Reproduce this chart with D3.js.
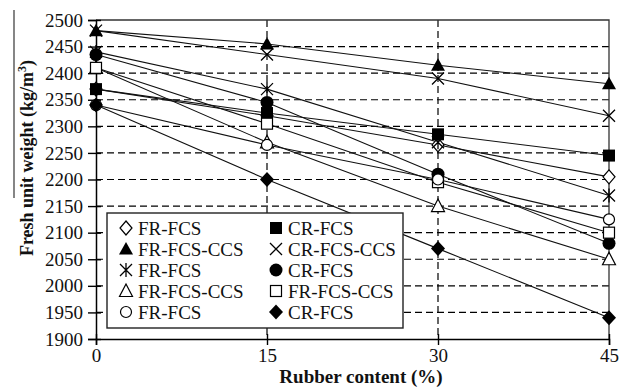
<!DOCTYPE html>
<html>
<head>
<meta charset="utf-8">
<script src="https://cdn.jsdelivr.net/npm/d3@7"></script>
<style>
  html, body { margin: 0; padding: 0; background: #fff; }
  svg { display: block; }
  text { font-family: "Liberation Serif", "Times New Roman", serif; fill: #111; }
</style>
</head>
<body>
<svg id="chart" width="632" height="387"></svg>
<script>
// Rubber content (%) on the x axis
const rubberContent = [0, 15, 30, 45];
const yTicks = [1900, 1950, 2000, 2050, 2100, 2150, 2200, 2250, 2300, 2350, 2400, 2450, 2500];

// Series labels in legend order (left column, right column, row by row)
const seriesNames = [
  "FR-FCS", "CR-FCS",
  "FR-FCS-CCS", "CR-FCS-CCS",
  "FR-FCS", "CR-FCS",
  "FR-FCS-CCS", "FR-FCS-CCS",
  "FR-FCS", "CR-FCS"
];

// Fresh unit weight (kg/m3) for each mix
const diamondOpenVals  = [2370, 2320, 2265, 2205];
const squareFillVals   = [2370, 2325, 2285, 2245];
const triFillVals      = [2480, 2455, 2415, 2380];
const timesVals        = [2480, 2435, 2390, 2320];
const asteriskVals     = [2440, 2370, 2270, 2170];
const circleFillVals   = [2435, 2345, 2210, 2080];
const triOpenVals      = [2410, 2270, 2150, 2050];
const squareOpenVals   = [2410, 2305, 2195, 2100];
const circleOpenVals   = [2340, 2265, 2200, 2125];
const diamondFillVals  = [2340, 2200, 2070, 1940];

const seriesValues = [
  diamondOpenVals, squareFillVals, triFillVals, timesVals, asteriskVals,
  circleFillVals, triOpenVals, squareOpenVals, circleOpenVals, diamondFillVals
];
const markerKinds = [
  "diamondOpen", "squareFill", "triFill", "times", "asterisk",
  "circleFill", "triOpen", "squareOpen", "circleOpen", "diamondFill"
];

const svg = d3.select("#chart");
const plotLeft = 96, plotRight = 609, plotTop = 20, plotBottom = 339;

const x = d3.scaleLinear().domain([0, 45]).range([plotLeft, plotRight]);
const y = d3.scaleLinear().domain([1900, 2500]).range([plotBottom, plotTop]);

// Marker drawing
function drawMarker(g, kind, cx, cy) {
  const s = g.append("g").attr("transform", `translate(${cx},${cy})`);
  const sw = 1.2;
  switch (kind) {
    case "diamondOpen":
      s.append("path").attr("d", "M0,-7L6,0L0,7L-6,0Z").attr("fill", "#fff").attr("stroke", "#000").attr("stroke-width", sw);
      break;
    case "diamondFill":
      s.append("path").attr("d", "M0,-7.5L7,0L0,7.5L-7,0Z").attr("fill", "#000");
      break;
    case "squareFill":
      s.append("rect").attr("x", -6).attr("y", -6).attr("width", 12).attr("height", 12).attr("fill", "#000");
      break;
    case "squareOpen":
      s.append("rect").attr("x", -5.5).attr("y", -5.5).attr("width", 11).attr("height", 11).attr("fill", "#fff").attr("stroke", "#000").attr("stroke-width", sw);
      break;
    case "triFill":
      s.append("path").attr("d", "M0,-7L7,5.5L-7,5.5Z").attr("fill", "#000");
      break;
    case "triOpen":
      s.append("path").attr("d", "M0,-7L6.5,5.5L-6.5,5.5Z").attr("fill", "#fff").attr("stroke", "#000").attr("stroke-width", sw);
      break;
    case "circleFill":
      s.append("circle").attr("r", 6.5).attr("fill", "#000");
      break;
    case "circleOpen":
      s.append("circle").attr("r", 5.5).attr("fill", "#fff").attr("stroke", "#000").attr("stroke-width", sw);
      break;
    case "times":
      s.append("path").attr("d", "M-6,-6L6,6M-6,6L6,-6").attr("stroke", "#000").attr("stroke-width", 1.3).attr("fill", "none");
      break;
    case "asterisk":
      s.append("path").attr("d", "M-6,-6L6,6M-6,6L6,-6M0,-7L0,7").attr("stroke", "#000").attr("stroke-width", 1.3).attr("fill", "none");
      break;
  }
}

// Stray frame line at the far left
svg.append("line").attr("x1", 14).attr("x2", 14).attr("y1", 10).attr("y2", 198)
  .attr("stroke", "#444").attr("stroke-width", 1.3);

// Horizontal dashed gridlines
svg.append("g").selectAll("line").data(yTicks.filter(v => v > 1900 && v < 2500)).join("line")
  .attr("x1", plotLeft).attr("x2", plotRight)
  .attr("y1", d => y(d)).attr("y2", d => y(d))
  .attr("stroke", "#000").attr("stroke-width", 1.2).attr("stroke-dasharray", "7,4");

// Vertical dashed gridlines
svg.append("g").selectAll("line").data([15, 30]).join("line")
  .attr("x1", d => x(d)).attr("x2", d => x(d))
  .attr("y1", plotTop).attr("y2", plotBottom)
  .attr("stroke", "#000").attr("stroke-width", 1.2).attr("stroke-dasharray", "7,4");

// Frame: top and right edges
svg.append("path")
  .attr("d", `M${plotLeft},${plotTop}L${plotRight},${plotTop}L${plotRight},${plotBottom}`)
  .attr("fill", "none").attr("stroke", "#333").attr("stroke-width", 1.3);

// Axes
const yAxis = d3.axisLeft(y).tickValues(yTicks).tickSize(8).tickPadding(6).tickFormat(d3.format("d"));
const gy = svg.append("g").attr("transform", `translate(${plotLeft},0)`).call(yAxis);
gy.select(".domain").attr("stroke", "#000").attr("stroke-width", 1.5);
gy.selectAll(".tick line").attr("stroke", "#000").attr("stroke-width", 1.4).attr("x2", -8).attr("x1", 5);
gy.selectAll(".tick text").attr("font-size", 19).attr("fill", "#111")
  .attr("font-family", "Liberation Serif, serif").attr("x", -13);

const xAxis = d3.axisBottom(x).tickValues(rubberContent).tickSize(6).tickPadding(6).tickFormat(d3.format("d"));
const gx = svg.append("g").attr("transform", `translate(0,${plotBottom})`).call(xAxis);
gx.select(".domain").attr("stroke", "#000").attr("stroke-width", 1.5);
gx.selectAll(".tick line").attr("stroke", "#000").attr("stroke-width", 1.4).attr("y1", -5).attr("y2", 6);
gx.selectAll(".tick text").attr("font-size", 19).attr("fill", "#111")
  .attr("font-family", "Liberation Serif, serif").attr("y", 10);

// Series lines
const line = d3.line().x((d, i) => x(rubberContent[i])).y(d => y(d));
svg.append("g").selectAll("path").data(seriesValues).join("path")
  .attr("d", d => line(d))
  .attr("fill", "none").attr("stroke", "#111").attr("stroke-width", 1.1);

// Markers
const mk = svg.append("g");
seriesValues.forEach((vals, si) => {
  vals.forEach((v, i) => drawMarker(mk, markerKinds[si], x(rubberContent[i]), y(v)));
});

// Axis titles
svg.append("text")
  .attr("x", 361).attr("y", 383)
  .attr("text-anchor", "middle").attr("font-size", 19).attr("font-weight", "bold")
  .text("Rubber content (%)");

const yt = svg.append("text")
  .attr("transform", "translate(33,158) rotate(-90)")
  .attr("text-anchor", "middle").attr("font-size", 18).attr("font-weight", "bold");
yt.append("tspan").text("Fresh unit weight (kg/m");
yt.append("tspan").attr("font-size", 12).attr("dy", -7).text("3");
yt.append("tspan").attr("dy", 7).text(")");

// Legend
const lg = svg.append("g");
lg.append("rect").attr("x", 107).attr("y", 213).attr("width", 296).attr("height", 115)
  .attr("fill", "#fff").attr("stroke", "#222").attr("stroke-width", 1.4);
seriesNames.forEach((name, i) => {
  const col = i % 2, row = Math.floor(i / 2);
  const mx = col === 0 ? 126 : 276;
  const my = 228 + row * 21;
  drawMarker(lg, markerKinds[i], mx, my);
  lg.append("text").attr("x", mx + 12).attr("y", my).attr("dy", "0.35em")
    .attr("font-size", 19).text(name);
});
</script>
</body>
</html>
